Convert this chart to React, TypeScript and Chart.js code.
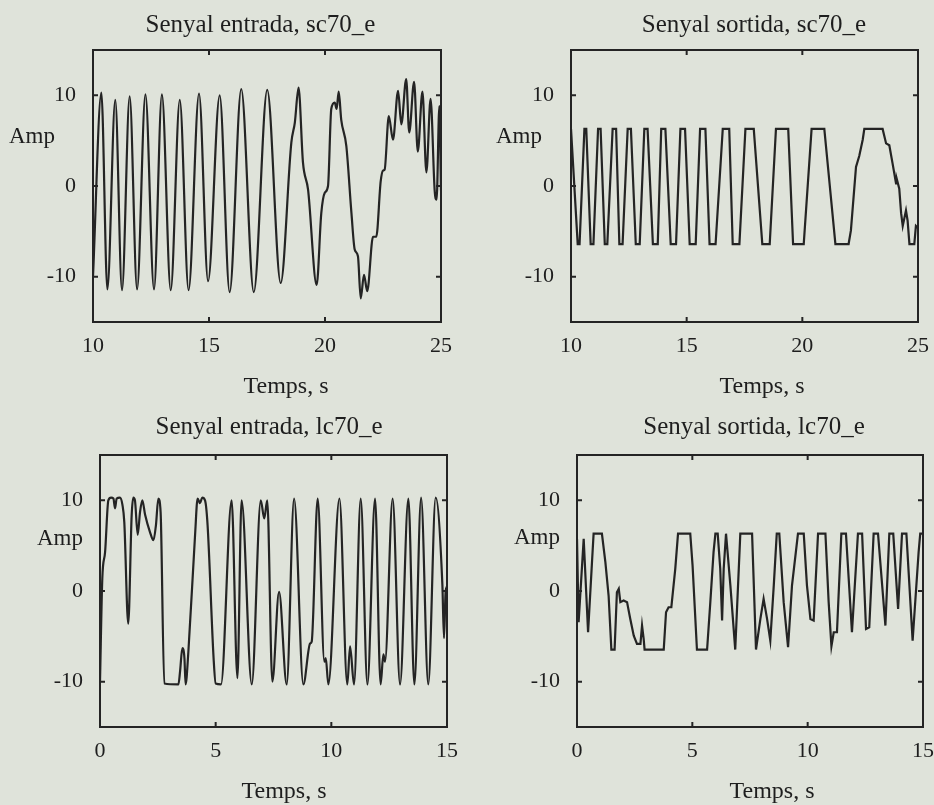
import React, { useEffect, useRef } from "react";
import { Chart, registerables } from "chart.js";

Chart.register(...registerables);

// ---------- Data ----------
// Panel 1: Senyal entrada, sc70_e (time s, amplitude)
const T_SC70_IN = [10.0, 10.36, 10.62, 10.96, 11.25, 11.58, 11.9, 12.26, 12.63, 12.97, 13.35, 13.74, 14.12, 14.57, 14.96, 15.46, 15.89, 16.39, 16.93, 17.51, 18.09, 18.55, 18.7, 18.86, 19.05, 19.27, 19.64, 19.84, 19.99, 20.13, 20.27, 20.42, 20.5, 20.59, 20.7, 20.92, 21.14, 21.28, 21.42, 21.54, 21.68, 21.82, 22.07, 22.21, 22.4, 22.5, 22.57, 22.75, 22.93, 23.15, 23.29, 23.5, 23.63, 23.84, 24.0, 24.2, 24.37, 24.55, 24.73, 24.81, 24.93, 25.0];
const A_SC70_IN = [-10, 10.3, -11.4, 9.5, -11.5, 9.9, -11.4, 10.1, -11.4, 10.1, -11.5, 9.5, -11.5, 10.2, -10.5, 10.0, -11.7, 10.7, -11.7, 10.6, -10.7, 4.8, 7.0, 10.85, 2.6, -0.4, -10.9, -3.0, -0.75, 0.0, 8.5, 9.2, 8.5, 10.4, 7.3, 4.4, -3.0, -7.0, -7.75, -12.4, -9.8, -11.6, -5.6, -5.6, 0.5, 1.7, 1.8, 7.7, 5.1, 10.5, 6.8, 11.8, 5.9, 11.5, 3.8, 10.4, 1.5, 9.6, -0.6, -1.5, 8.8, -0.5];

// Panel 2: Senyal sortida, sc70_e
const T_SC70_OUT = [10.0, 10.29, 10.37, 10.58, 10.66, 10.85, 10.97, 11.17, 11.28, 11.46, 11.57, 11.8, 11.95, 12.09, 12.23, 12.45, 12.59, 12.8, 12.97, 13.17, 13.31, 13.54, 13.75, 13.9, 14.08, 14.31, 14.54, 14.73, 14.93, 15.13, 15.39, 15.58, 15.81, 15.99, 16.25, 16.56, 16.84, 16.99, 17.28, 17.54, 17.9, 18.27, 18.59, 18.86, 19.39, 19.6, 20.06, 20.4, 20.95, 21.43, 22.0, 22.1, 22.32, 22.46, 22.61, 22.68, 23.47, 23.62, 23.76, 23.9, 24.05, 24.09, 24.19, 24.27, 24.34, 24.48, 24.55, 24.63, 24.84, 24.91, 24.99];
const A_SC70_OUT = [6.3, -6.4, -6.4, 6.3, 6.3, -6.4, -6.4, 6.3, 6.3, -6.4, -6.4, 6.3, 6.3, -6.4, -6.4, 6.3, 6.3, -6.4, -6.4, 6.3, 6.3, -6.4, -6.4, 6.3, 6.3, -6.4, -6.4, 6.3, 6.3, -6.4, -6.4, 6.3, 6.3, -6.4, -6.4, 6.3, 6.3, -6.4, -6.4, 6.3, 6.3, -6.4, -6.4, 6.3, 6.3, -6.4, -6.4, 6.3, 6.3, -6.4, -6.4, -4.9, 2.1, 3.3, 5.1, 6.3, 6.3, 4.7, 4.5, 2.5, 0.3, 0.7, -0.3, -3.0, -4.4, -2.7, -3.8, -6.4, -6.4, -4.4, -4.6];

// Panel 3: Senyal entrada, lc70_e
const T_LC70_IN = [0, 0.1, 0.22, 0.36, 0.48, 0.58, 0.65, 0.72, 0.86, 0.97, 1.05, 1.22, 1.37, 1.44, 1.51, 1.63, 1.73, 1.83, 1.95, 2.16, 2.31, 2.42, 2.52, 2.62, 2.78, 3.39, 3.46, 3.56, 3.65, 3.7, 3.82, 4.11, 4.22, 4.32, 4.42, 4.54, 4.65, 4.91, 5.0, 5.23, 5.69, 5.94, 6.12, 6.56, 6.95, 7.1, 7.23, 7.45, 7.74, 8.07, 8.39, 8.79, 9.08, 9.15, 9.41, 9.7, 9.76, 9.87, 10.35, 10.69, 10.81, 10.98, 11.27, 11.56, 11.89, 12.13, 12.25, 12.32, 12.65, 12.97, 13.33, 13.59, 13.88, 14.19, 14.51, 14.8, 14.87, 14.94, 15.0];
const A_LC70_IN = [-10.0, 1.4, 4.3, 10.0, 10.3, 10.2, 9.1, 10.2, 10.3, 9.5, 7.6, -3.6, 8.4, 10.3, 10.0, 6.2, 8.7, 10.0, 8.4, 6.5, 5.6, 7.3, 10.2, 8.7, -10.2, -10.3, -8.9, -6.3, -7.4, -10.3, -6.7, 6.2, 10.2, 9.7, 10.3, 10.0, 7.3, -7.4, -10.2, -10.3, 10.0, -9.6, 10.0, -10.3, 10.0, 8.0, 10.0, -10.0, -0.1, -10.3, 10.2, -10.3, -5.8, -5.6, 10.2, -7.8, -7.4, -10.3, 10.2, -10.3, -6.1, -10.3, 10.2, -10.3, 10.2, -10.3, -7.0, -7.8, 10.2, -10.3, 10.2, -10.3, 10.3, -10.3, 10.3, 0.7, -5.2, -0.1, 0.5];

// Panel 4: Senyal sortida, lc70_e
const T_LC70_OUT = [0, 0.07, 0.29, 0.48, 0.65, 0.72, 1.08, 1.23, 1.37, 1.49, 1.63, 1.73, 1.81, 1.88, 2.02, 2.17, 2.31, 2.46, 2.6, 2.75, 2.82, 2.89, 2.93, 3.76, 3.86, 3.97, 4.09, 4.26, 4.38, 4.91, 5.01, 5.2, 5.64, 5.78, 5.92, 6.0, 6.1, 6.21, 6.29, 6.36, 6.46, 6.65, 6.86, 7.08, 7.59, 7.76, 7.95, 8.09, 8.24, 8.38, 8.53, 8.66, 8.77, 8.96, 9.15, 9.32, 9.58, 9.83, 9.97, 10.12, 10.26, 10.45, 10.77, 10.91, 11.03, 11.13, 11.27, 11.46, 11.66, 11.92, 12.18, 12.36, 12.53, 12.67, 12.86, 13.05, 13.37, 13.54, 13.71, 13.92, 14.09, 14.28, 14.55, 14.81, 14.88, 15.0];
const A_LC70_OUT = [5.76, -3.44, 5.76, -4.55, 3.19, 6.32, 6.32, 3.19, -0.5, -6.46, -6.46, -0.13, 0.24, -1.23, -1.05, -1.23, -3.08, -4.92, -5.84, -5.84, -3.81, -5.29, -6.46, -6.46, -2.34, -1.79, -1.79, 2.45, 6.32, 6.32, 2.82, -6.46, -6.46, -1.23, 4.29, 6.32, 6.32, 2.45, -3.26, 2.45, 6.32, 0.6, -6.46, 6.32, 6.32, -6.46, -3.08, -0.87, -3.08, -5.47, 0.6, 6.32, 6.32, -1.23, -6.2, 0.6, 6.32, 6.32, 0.6, -3.08, -3.26, 6.32, 6.32, -1.23, -6.1, -4.55, -4.55, 6.32, 6.32, -4.55, 6.32, 6.32, -4.18, -4.0, 6.32, 6.32, -3.81, 6.32, 6.32, -1.97, 6.32, 6.32, -5.47, 4.29, 6.32, 6.32];

// Ticks and labels
const X_TICKS_SC = [10, 15, 20, 25];
const X_TICKS_LC = [0, 5, 10, 15];
const Y_TICKS = [-10, 0, 10];
const Y_RANGE = [-15, 15];
const TITLES = [
  "Senyal entrada, sc70_e",
  "Senyal sortida, sc70_e",
  "Senyal entrada, lc70_e",
  "Senyal sortida, lc70_e",
];
const Y_LABEL = "Amp";
const X_LABEL = "Temps, s";

// ---------- Styles ----------
const BG = "#dfe3da";
const INK = "#242424";
const TEXT = "#1e1e1e";
const FONT = '"Liberation Serif", "Times New Roman", serif';

type PanelCfg = {
  t: number[];
  a: number[];
  xTicks: number[];
  smooth: boolean;
  title: string;
  left: number; top: number; w: number; h: number;
  padTop: number; padRight: number; yW: number; xH: number;
  titleX: number; titleY: number;
  ampR: number; ampY: number;
  xlX: number; xlY: number;
};

const PANELS: PanelCfg[] = [
  { t: T_SC70_IN, a: A_SC70_IN, xTicks: X_TICKS_SC, smooth: true, title: TITLES[0],
    left: 0, top: 0, w: 467, h: 400, padTop: 50, padRight: 26, yW: 93, xH: 78,
    titleX: 260.5, titleY: 32, ampR: 55, ampY: 143, xlX: 286, xlY: 393 },
  { t: T_SC70_OUT, a: A_SC70_OUT, xTicks: X_TICKS_SC, smooth: false, title: TITLES[1],
    left: 467, top: 0, w: 467, h: 400, padTop: 50, padRight: 16, yW: 104, xH: 78,
    titleX: 287, titleY: 32, ampR: 75, ampY: 143, xlX: 295, xlY: 393 },
  { t: T_LC70_IN, a: A_LC70_IN, xTicks: X_TICKS_LC, smooth: true, title: TITLES[2],
    left: 0, top: 400, w: 467, h: 405, padTop: 55, padRight: 20, yW: 100, xH: 78,
    titleX: 269, titleY: 34, ampR: 83, ampY: 145, xlX: 284, xlY: 398 },
  { t: T_LC70_OUT, a: A_LC70_OUT, xTicks: X_TICKS_LC, smooth: false, title: TITLES[3],
    left: 467, top: 400, w: 467, h: 405, padTop: 55, padRight: 11, yW: 110, xH: 78,
    titleX: 287, titleY: 34, ampR: 93, ampY: 144, xlX: 305, xlY: 398 },
];

const framePlugin = {
  id: "frameBox",
  afterDatasetsDraw(chart: any) {
    const { ctx, chartArea: ca, scales } = chart;
    const xs = scales.x, ys = scales.y;
    ctx.save();
    ctx.strokeStyle = INK;
    ctx.lineWidth = 2;
    ctx.strokeRect(ca.left, ca.top, ca.right - ca.left, ca.bottom - ca.top);
    const L = 5;
    ctx.beginPath();
    xs.ticks.forEach((tk: any) => {
      const px = xs.getPixelForValue(tk.value);
      if (Math.abs(px - ca.left) < 2 || Math.abs(px - ca.right) < 2) return;
      ctx.moveTo(px, ca.bottom); ctx.lineTo(px, ca.bottom - L);
      ctx.moveTo(px, ca.top); ctx.lineTo(px, ca.top + L);
    });
    ys.ticks.forEach((tk: any) => {
      const py = ys.getPixelForValue(tk.value);
      ctx.moveTo(ca.left, py); ctx.lineTo(ca.left + L, py);
      ctx.moveTo(ca.right, py); ctx.lineTo(ca.right - L, py);
    });
    ctx.stroke();
    ctx.restore();
  },
};

const textPlugin = {
  id: "panelText",
  afterDraw(chart: any, _args: any, opts: any) {
    const { ctx } = chart;
    ctx.save();
    ctx.fillStyle = TEXT;
    ctx.textBaseline = "alphabetic";
    ctx.font = `25px ${FONT}`;
    ctx.textAlign = "center";
    ctx.fillText(opts.title, opts.titleX, opts.titleY);
    ctx.font = `23px ${FONT}`;
    ctx.textAlign = "right";
    ctx.fillText(Y_LABEL, opts.ampR, opts.ampY);
    ctx.font = `24px ${FONT}`;
    ctx.textAlign = "center";
    ctx.fillText(X_LABEL, opts.xlX, opts.xlY);
    ctx.restore();
  },
};

function Panel({ cfg }: { cfg: PanelCfg }) {
  const ref = useRef<HTMLCanvasElement | null>(null);
  useEffect(() => {
    if (!ref.current) return;
    const points = cfg.t.map((x, i) => ({ x, y: cfg.a[i] }));
    const chart = new Chart(ref.current, {
      type: "line",
      data: {
        datasets: [
          {
            data: points,
            borderColor: INK,
            borderWidth: 2.2,
            pointRadius: 0,
            fill: false,
            tension: 0,
            cubicInterpolationMode: cfg.smooth ? "monotone" : "default",
          } as any,
        ],
      },
      options: {
        responsive: false,
        animation: false,
        devicePixelRatio: 1,
        layout: { padding: { left: 0, top: cfg.padTop, right: cfg.padRight, bottom: 0 } },
        plugins: {
          legend: { display: false },
          tooltip: { enabled: false },
          title: { display: false },
          panelText: {
            title: cfg.title,
            titleX: cfg.titleX, titleY: cfg.titleY,
            ampR: cfg.ampR, ampY: cfg.ampY,
            xlX: cfg.xlX, xlY: cfg.xlY,
          },
        } as any,
        scales: {
          x: {
            type: "linear",
            min: cfg.xTicks[0],
            max: cfg.xTicks[cfg.xTicks.length - 1],
            afterBuildTicks: (s: any) => { s.ticks = cfg.xTicks.map((v) => ({ value: v })); },
            afterFit: (s: any) => {
              s.height = cfg.xH;
              s.paddingLeft = 0;
              s.paddingRight = 0;
            },
            grid: { display: false, drawTicks: false },
            border: { display: false },
            ticks: {
              padding: 11,
              color: TEXT,
              font: { family: FONT, size: 22 },
              maxRotation: 0,
              autoSkip: false,
              callback: (v: any) => String(v),
            },
          },
          y: {
            type: "linear",
            min: Y_RANGE[0],
            max: Y_RANGE[1],
            afterBuildTicks: (s: any) => { s.ticks = Y_TICKS.map((v) => ({ value: v })); },
            afterFit: (s: any) => { s.width = cfg.yW; },
            grid: { display: false, drawTicks: false },
            border: { display: false },
            ticks: {
              padding: 17,
              color: TEXT,
              font: { family: FONT, size: 22 },
              autoSkip: false,
              callback: (v: any) => String(v),
            },
          },
        },
      } as any,
      plugins: [framePlugin, textPlugin],
    });
    return () => chart.destroy();
  }, [cfg]);
  return (
    <div style={{ position: "absolute", left: cfg.left, top: cfg.top, width: cfg.w, height: cfg.h }}>
      <canvas ref={ref} width={cfg.w} height={cfg.h} style={{ width: cfg.w, height: cfg.h, display: "block" }} />
    </div>
  );
}

export default function App() {
  return (
    <div style={{ position: "absolute", left: 0, top: 0, width: 934, height: 805, background: BG, overflow: "hidden" }}>
      {PANELS.map((p, i) => (
        <Panel key={i} cfg={p} />
      ))}
    </div>
  );
}
